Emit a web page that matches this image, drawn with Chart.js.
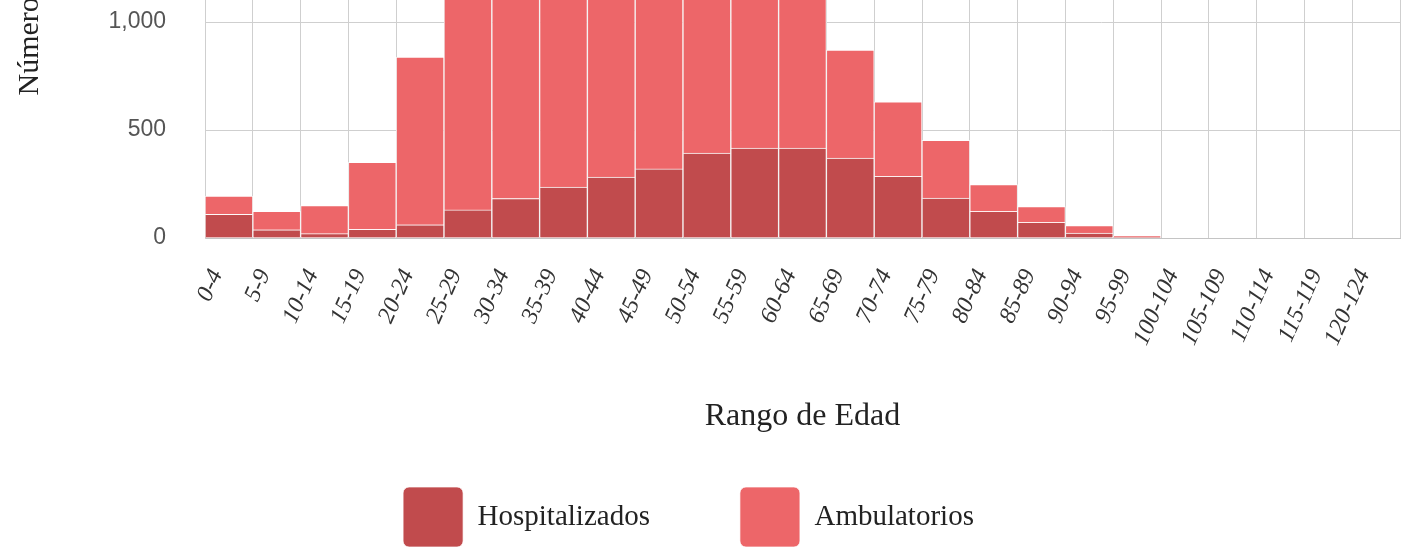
<!DOCTYPE html>
<html>
<head>
<meta charset="utf-8">
<script src="https://cdn.jsdelivr.net/npm/chart.js@4.4.1/dist/chart.umd.min.js"></script>
<style>
  html, body { margin: 0; padding: 0; background: #fff; overflow: hidden; width: 1402px; height: 558px; }
  .wrap { position: absolute; left: -23px; top: -320px; }
</style>
</head>
<body>
<div class="wrap"><canvas id="myChart" width="1425" height="877"></canvas></div>
<script>
const categories = ['0-4', '5-9', '10-14', '15-19', '20-24', '25-29', '30-34', '35-39', '40-44', '45-49',
    '50-54', '55-59', '60-64', '65-69', '70-74', '75-79', '80-84', '85-89', '90-94', '95-99',
    '100-104', '105-109', '110-114', '115-119', '120-124'];

const hospitalizados = [110, 38, 20, 40, 61, 130, 183, 236, 282, 320, 393, 416, 416, 370, 285, 185, 123, 72, 23, 3, 0, 0, 0, 0, 0];
const ambulatorios = [84, 85, 130, 310, 777, 1370, 1717, 1864, 1968, 1880, 1607, 1284, 884, 500, 345, 267, 124, 74, 34, 7, 0, 0, 0, 0, 0];

const yTicks = { min: 0, max: 2500, step: 500 };

const serif = "'Liberation Serif', 'Times New Roman', serif";
const sans = "'Liberation Sans', Arial, sans-serif";
const gridColor = '#cfcfcf';

const ctx = document.getElementById('myChart').getContext('2d');
const myChart = new Chart(ctx, {
    type: 'bar',
    data: {
        labels: categories,
        datasets: [{
            label: 'Hospitalizados',
            data: hospitalizados,
            backgroundColor: '#c14b4d',
            borderColor: 'rgba(255,255,255,0.7)',
            borderWidth: 1,
            barPercentage: 1,
            categoryPercentage: 1
        }, {
            label: 'Ambulatorios',
            data: ambulatorios,
            backgroundColor: '#ed6669',
            borderColor: 'rgba(255,255,255,0.7)',
            borderWidth: 1,
            barPercentage: 1,
            categoryPercentage: 1
        }]
    },
    options: {
        responsive: false,
        animation: false,
        locale: 'en-US',
        layout: { padding: { top: 18, right: 2, left: 0, bottom: 0 } },
        plugins: {
            legend: {
                position: 'bottom',
                labels: {
                    boxWidth: 60,
                    boxHeight: 60,
                    padding: 90,
                    useBorderRadius: true,
                    borderRadius: 6,
                    color: '#222',
                    font: { family: serif, size: 29 }
                }
            },
            tooltip: { enabled: false }
        },
        scales: {
            x: {
                stacked: true,
                grid: { color: gridColor, drawTicks: false },
                border: { color: '#c4c4c4' },
                ticks: {
                    autoSkip: false,
                    minRotation: 66,
                    maxRotation: 66,
                    padding: 27,
                    labelOffset: -12,
                    color: '#333',
                    font: { family: serif, style: 'italic', size: 24 }
                },
                title: {
                    display: true,
                    text: 'Rango de Edad',
                    color: '#222',
                    font: { family: serif, size: 32 },
                    padding: { top: 0, bottom: -39 }
                },
                afterFit: (scale) => {
                    scale.height = 159;
                    scale.paddingLeft = 0;
                    scale.paddingRight = 0;
                }
            },
            y: {
                stacked: true,
                min: yTicks.min,
                max: yTicks.max,
                grid: { color: gridColor, drawTicks: false },
                border: { color: gridColor },
                ticks: {
                    stepSize: yTicks.step,
                    padding: 39,
                    color: '#555',
                    font: { family: sans, size: 23 }
                },
                title: {
                    display: true,
                    text: 'Número de Pacientes',
                    color: '#222',
                    font: { family: serif, size: 30 },
                    padding: { top: 35, bottom: 0 }
                },
                afterFit: (scale) => {
                    scale.width = 228;
                    scale.paddingTop = 0;
                    scale.paddingBottom = 0;
                }
            }
        }
    }
});
</script>
</body>
</html>
